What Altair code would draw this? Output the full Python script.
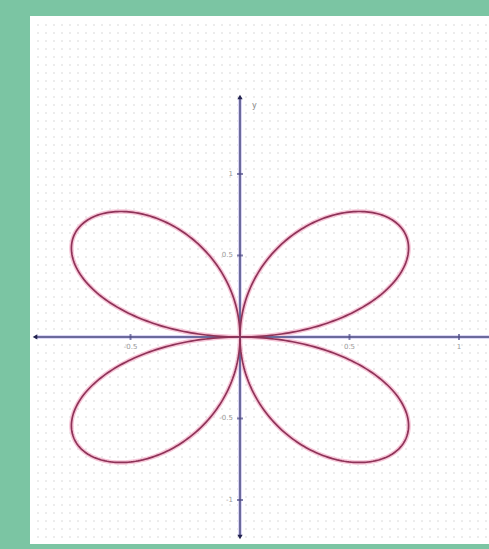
import altair as alt
import numpy as np
import pandas as pd

# Four-petal rose r = a * sin(k * theta)
rose_a = [1.0]
rose_k = [2]

# Axis extents (data units) and tick labels
x_axis_span = [-0.936, 1.14]
y_axis_span = [-1.227, 1.472]
x_tick_values = [-0.5, 0.5, 1.0]
x_tick_labels = ["-0.5", "0.5", "1"]
y_tick_values = [1.0, 0.5, -0.5, -1.0]
y_tick_labels = ["1", "0.5", "-0.5", "-1"]

X_DOMAIN = [-0.9589, 1.137]
Y_DOMAIN = [-1.27, 1.969]
PX_X, PX_Y = 219, 163  # pixels per data unit

theta = np.linspace(0, 2 * np.pi, 721)
r = rose_a[0] * np.sin(rose_k[0] * theta)
curve = pd.DataFrame({"i": np.arange(theta.size), "x": r * np.cos(theta), "y": r * np.sin(theta)})

# faint background dot lattice, 8 px pitch
gx = np.arange(X_DOMAIN[0] + 8 / PX_X, X_DOMAIN[1], 8 / PX_X)
gy = np.arange(Y_DOMAIN[1] - 9 / PX_Y, Y_DOMAIN[0], -8 / PX_Y)
GX, GY = np.meshgrid(gx, gy)
dots = pd.DataFrame({"x": np.round(GX.ravel(), 4), "y": np.round(GY.ravel(), 4)})

xs = alt.Scale(domain=X_DOMAIN, nice=False, zero=False)
ys = alt.Scale(domain=Y_DOMAIN, nice=False, zero=False)

grid = alt.Chart(dots).mark_square(size=4, color="#ececec", opacity=1).encode(
    x=alt.X("x:Q", scale=xs, axis=None),
    y=alt.Y("y:Q", scale=ys, axis=None),
)

axes_df = pd.DataFrame({
    "x": [x_axis_span[0], 0.0], "x2": [x_axis_span[1], 0.0],
    "y": [0.0, y_axis_span[0]], "y2": [0.0, y_axis_span[1]],
})
axis_halo = alt.Chart(axes_df).mark_rule(color="#dcd7f6", strokeWidth=4).encode(
    x=alt.X("x:Q", scale=xs), x2="x2", y=alt.Y("y:Q", scale=ys), y2="y2")
axis_line = alt.Chart(axes_df).mark_rule(color="#6b6a9c", strokeWidth=2).encode(
    x=alt.X("x:Q", scale=xs), x2="x2", y=alt.Y("y:Q", scale=ys), y2="y2")

arrows = alt.Chart(pd.DataFrame({
    "x": [0.0, 0.0, x_axis_span[0]],
    "y": [y_axis_span[1], y_axis_span[0], 0.0],
    "shape": ["triangle-up", "triangle-down", "triangle-left"],
})).mark_point(filled=True, size=28, color="#23234f", opacity=1).encode(
    x=alt.X("x:Q", scale=xs), y=alt.Y("y:Q", scale=ys),
    shape=alt.Shape("shape:N", scale=None, legend=None))

xt = pd.DataFrame({"x": x_tick_values, "y": [0.0] * 3, "label": x_tick_labels})
yt = pd.DataFrame({"x": [0.0] * 4, "y": y_tick_values, "label": y_tick_labels})

x_ticks = alt.Chart(xt).mark_tick(orient="vertical", size=6, thickness=2, color="#4d4c86").encode(
    x=alt.X("x:Q", scale=xs), y=alt.Y("y:Q", scale=ys))
y_ticks = alt.Chart(yt).mark_tick(orient="horizontal", size=6, thickness=2, color="#4d4c86").encode(
    x=alt.X("x:Q", scale=xs), y=alt.Y("y:Q", scale=ys))

x_labels = alt.Chart(xt).mark_text(fontSize=7, font="DejaVu Sans", color="#9a9a9a",
                                   baseline="top", dy=6).encode(
    x=alt.X("x:Q", scale=xs), y=alt.Y("y:Q", scale=ys), text="label:N")
y_labels = alt.Chart(yt).mark_text(fontSize=7, font="DejaVu Sans", color="#9a9a9a",
                                   align="right", dx=-7).encode(
    x=alt.X("x:Q", scale=xs), y=alt.Y("y:Q", scale=ys), text="label:N")
y_name = alt.Chart(pd.DataFrame({"x": [0.0], "y": [y_axis_span[1]], "t": ["y"]})).mark_text(
    fontSize=8, font="DejaVu Sans", color="#8a8a8a", align="left", dx=12, dy=9).encode(
    x=alt.X("x:Q", scale=xs), y=alt.Y("y:Q", scale=ys), text="t:N")

curve_halo = base = alt.Chart(curve).mark_line(color="#f7c6d8", strokeWidth=4.5).encode(
    x=alt.X("x:Q", scale=xs), y=alt.Y("y:Q", scale=ys), order="i:Q")
curve_line = alt.Chart(curve).mark_line(color="#8e3358", strokeWidth=1.7).encode(
    x=alt.X("x:Q", scale=xs), y=alt.Y("y:Q", scale=ys), order="i:Q")

chart = alt.layer(
    grid, axis_halo, curve_halo, axis_line, x_ticks, y_ticks, curve_line,
    arrows, x_labels, y_labels, y_name,
).properties(
    width=459, height=528,
    autosize=alt.AutoSizeParams(type="none"),
    padding={"left": 30, "top": 16, "right": 0, "bottom": 5},
    background="#7bc5a3",
).configure_view(fill="white", stroke=None, clip=True)

chart.save("out.html", embed_options={"renderer": "svg", "actions": False})
